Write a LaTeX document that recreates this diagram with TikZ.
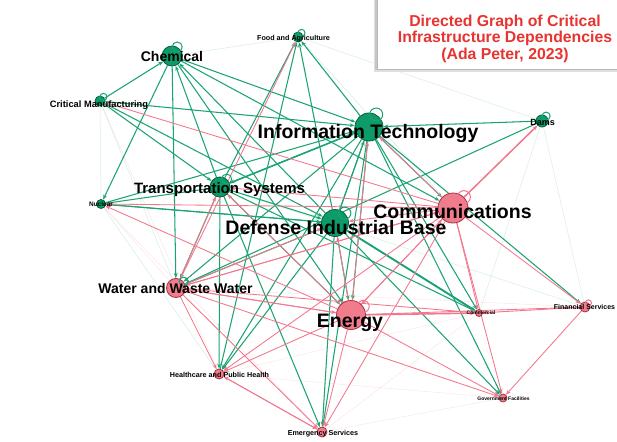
\documentclass[tikz,border=0pt]{standalone}
\usepackage{fontspec}
\setmainfont{Liberation Sans}
\usetikzlibrary{arrows.meta}
\pgfdeclarelayer{background}
\pgfsetlayers{background,main}
\definecolor{gline}{RGB}{26,164,114}
\definecolor{pline}{RGB}{243,118,140}
\definecolor{gfill}{RGB}{12,155,105}
\definecolor{gdark}{RGB}{8,95,62}
\definecolor{pfill}{RGB}{241,124,140}
\definecolor{pdark}{RGB}{165,50,65}
\definecolor{titlered}{RGB}{232,52,48}
\begin{document}
\begin{tikzpicture}[x=1pt,y=-1pt,
  gn/.style={circle,fill=gfill,draw=gdark,line width=0.8pt,inner sep=0pt},
  pn/.style={circle,fill=pfill,draw=pdark,line width=0.8pt,inner sep=0pt},
  lbl/.style={font=\bfseries,text=black,inner sep=0pt,anchor=base},
  ge/.style={draw=gline,line width=1.05pt,-{Stealth[length=5pt,width=3.8pt]}},
  pe/.style={draw=pline,line width=0.85pt,-{Stealth[length=5pt,width=3.8pt]}},
  gfaint/.style={draw=gline,line width=0.5pt,opacity=0.18},
  pfaint/.style={draw=pline,line width=0.5pt,opacity=0.18},
  gloop/.style={draw=gline,line width=1pt},
  ploop/.style={draw=pline,line width=1pt}]
\useasboundingbox (0,0) rectangle (617,441);

% nodes (circles)
\node[gn,minimum size=20pt] (chem) at (172,56) {};
\node[gn,minimum size=10pt] (fa) at (298,37) {};
\node[gn,minimum size=10pt] (cm) at (100,101) {};
\node[gn,minimum size=9pt] (nuc) at (101,204) {};
\node[gn,minimum size=20pt] (ts) at (220,187) {};
\node[gn,minimum size=28pt] (it) at (369,127) {};
\node[gn,minimum size=12pt] (dams) at (542,121) {};
\node[pn,minimum size=30pt] (comm) at (453,208) {};
\node[gn,minimum size=27pt] (dib) at (335,223) {};
\node[pn,minimum size=19pt] (ww) at (176,288) {};
\node[pn,minimum size=29pt] (energy) at (351,315) {};
\node[pn,minimum size=7pt] (commercial) at (479,313) {};
\node[pn,minimum size=10pt] (fin) at (585,307) {};
\node[pn,minimum size=10pt] (hc) at (219,374) {};
\node[pn,minimum size=10pt] (em) at (322,432) {};
\node[pn,minimum size=8pt] (gov) at (503,398) {};

\begin{pgfonlayer}{background}
\fill[white] (0,0) rectangle (617,441);
% faint edges
\foreach \a/\b in {fa/dams,chem/fa,cm/nuc,nuc/hc,cm/ww,dams/fin,dams/commercial,fa/it,fa/comm,it/dams,chem/cm,ts/fin}
  \draw[gfaint] (\a) -- (\b);
\foreach \a/\b in {nuc/em,commercial/fin,ww/em,hc/commercial,em/gov,hc/gov,cm/hc,ww/fin,em/commercial,nuc/ww}
  \draw[pfaint] (\a) -- (\b);
% green edges
\foreach \a/\b in {cm/chem,ts/chem,dib/chem,chem/ww,chem/nuc,chem/it,chem/energy,chem/comm,
  cm/it,cm/ts,cm/dib,ts/fa,hc/fa,dib/fa,it/fa,nuc/it,nuc/dib,ts/nuc,dib/nuc,
  ts/dib,ts/ww,ts/hc,ts/energy,ts/commercial,ts/em,
  it/ts,it/dib,it/comm,it/energy,it/ww,it/hc,it/commercial,it/fin,it/gov,it/em,
  dams/it,dams/ww,dib/energy,dib/ww,dib/hc,dib/it,dib/gov,dib/em}
  \draw[ge] (\a) -- (\b);
\draw[ge,line width=1.9pt] (dib) -- (commercial);
\draw[ge,line width=1.5pt] (ts) -- (it);
% pink edges
\foreach \a/\b in {comm/energy,comm/ww,comm/hc,comm/em,comm/commercial,comm/fin,comm/gov,comm/dib,comm/nuc,comm/ts,comm/cm,comm/it,
  energy/fin,energy/hc,energy/em,energy/ww,energy/gov,energy/comm,energy/dib,energy/ts,energy/nuc,energy/it,
  ww/energy,ww/hc,ww/em,ww/commercial,ww/comm,ww/dib,ww/gov,ww/ts,ww/fa,
  hc/em,em/hc,fin/gov,fin/commercial}
  \draw[pe] (\a) -- (\b);
\draw[pe,line width=1.6pt] (energy) -- (commercial);
\draw[pe,line width=1.5pt] (comm) -- (dams);
\end{pgfonlayer}

% self loops
\draw[gloop] (chem.60) circle (5);
\draw[gloop] (fa.50) circle (3.5);
\draw[gloop] (cm.50) circle (3.5);
\draw[gloop] (ts.50) circle (5);
\draw[gloop] (it.60) circle (6.5);
\draw[gloop] (dams.50) circle (4);
\draw[ploop] (comm.45) circle (6.5);
\draw[gloop] (dib.45) circle (6);
\draw[gloop] (ww.40) circle (4.5);
\draw[ploop] (energy.35) circle (6);
\draw[ploop] (fin.50) circle (3);

% labels
\node[lbl,font=\bfseries\fontsize{14}{14}\selectfont] (chemL) at (172,62) {Chemical};
\node[lbl,font=\bfseries\fontsize{7.2}{7.2}\selectfont] (faL) at (293.5,40.6) {Food and Agriculture};
\node[lbl,font=\bfseries\fontsize{9.3}{9.3}\selectfont] (cmL) at (99,107.3) {Critical Manufacturing};
\node[lbl,font=\bfseries\fontsize{6.5}{6.5}\selectfont] (nucL) at (101,206.3) {Nuclear};
\node[lbl,font=\bfseries\fontsize{15}{15}\selectfont] (tsL) at (219.5,193.5) {Transportation Systems};
\node[lbl,font=\bfseries\fontsize{19.5}{19.5}\selectfont] (itL) at (368,138) {Information Technology};
\node[lbl,font=\bfseries\fontsize{9}{9}\selectfont] (damsL) at (542.5,125.2) {Dams};
\node[lbl,font=\bfseries\fontsize{19.5}{19.5}\selectfont] (commL) at (452.5,218) {Communications};
\node[lbl,font=\bfseries\fontsize{19.5}{19.5}\selectfont] (dibL) at (336,234) {Defense Industrial Base};
\node[lbl,font=\bfseries\fontsize{14}{14}\selectfont] (wwL) at (175.5,293) {Water and Waste Water};
\node[lbl,font=\bfseries\fontsize{19.5}{19.5}\selectfont] (energyL) at (350,327) {Energy};
\node[lbl,font=\bfseries\fontsize{5}{5}\selectfont] (commercialL) at (481,314.8) {Commercial};
\node[lbl,font=\bfseries\fontsize{7}{7}\selectfont] (finL) at (584.5,309.5) {Financial Services};
\node[lbl,font=\bfseries\fontsize{7.2}{7.2}\selectfont] (hcL) at (219.5,377.6) {Healthcare and Public Health};
\node[lbl,font=\bfseries\fontsize{7.2}{7.2}\selectfont] (emL) at (323,435.6) {Emergency Services};
\node[lbl,font=\bfseries\fontsize{5}{5}\selectfont] (govL) at (503.5,400.8) {Government Facilities};

% title box
\fill[gray!25] (374,-5) rectangle (625,72);
\fill[gray!45] (375,-5) rectangle (625,70.5);
\filldraw[fill=white,draw=gray!55,line width=0.6pt] (377,-5) rectangle (625,69);
\node[font=\bfseries\fontsize{15.8}{16.5}\selectfont,text=titlered,align=center,inner sep=0pt] (title) at (505,38.5)
  {Directed Graph of Critical\\Infrastructure Dependencies\\(Ada Peter, 2023)};
\end{tikzpicture}
\end{document}
